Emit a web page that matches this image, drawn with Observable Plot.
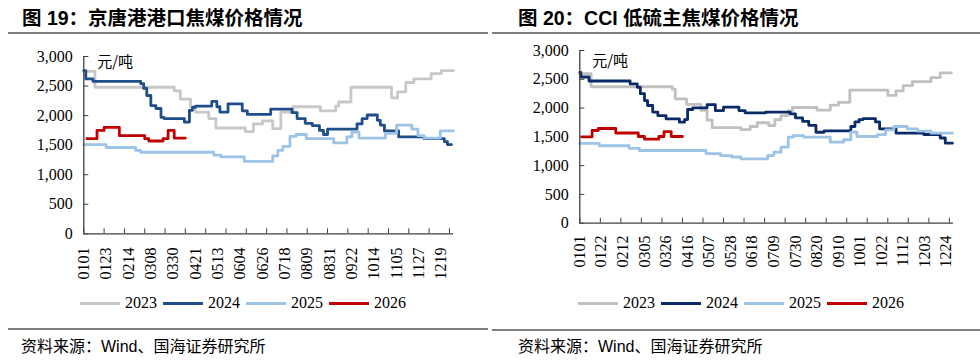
<!DOCTYPE html>
<html><head><meta charset="utf-8">
<script src="https://cdn.jsdelivr.net/npm/d3@7"></script>
<script src="https://cdn.jsdelivr.net/npm/@observablehq/plot@0.6"></script>
<style>
body{margin:0;background:#fff;width:980px;height:360px;position:relative;overflow:hidden;font-family:"Liberation Serif",serif;color:#000;}
.panel{position:absolute;top:0;width:490px;height:360px;}
.title{position:absolute;top:7px;font-weight:bold;font-size:19.5px;line-height:22px;font-family:"Liberation Sans","Noto Sans CJK SC",sans-serif;white-space:nowrap;color:#000;}
.rule{position:absolute;height:2px;background:#808080;}
.chart{position:absolute;top:36px;left:0;}
.legend{position:absolute;top:293px;height:20px;display:flex;align-items:center;font-size:16px;font-family:"Liberation Serif",serif;white-space:nowrap;}
.legend .sw{display:inline-block;width:40px;height:3px;margin-right:5px;}
.legend .lb{margin-right:6px;}
.source{position:absolute;top:337px;font-size:16px;line-height:20px;font-family:"Liberation Sans","Noto Sans CJK SC",sans-serif;white-space:nowrap;}
</style></head>
<body>
<div class="panel" id="p1" style="left:0">
  <div class="title" style="left:22px">图 19：京唐港港口焦煤价格情况</div>
  <div class="rule" style="left:8px;width:480px;top:32px"></div>
  <div class="chart" id="c1"></div>
  <div class="legend" id="l1" style="left:80px"></div>
  <div class="rule" style="left:8px;width:480px;top:328px"></div>
  <div class="source" style="left:21px">资料来源：Wind、国海证券研究所</div>
</div>
<div class="panel" id="p2" style="left:490px">
  <div class="title" style="left:28px">图 20：CCI 低硫主焦煤价格情况</div>
  <div class="rule" style="left:2px;width:488px;top:32px"></div>
  <div class="chart" id="c2"></div>
  <div class="legend" id="l2" style="left:88px"></div>
  <div class="rule" style="left:2px;width:488px;top:329px"></div>
  <div class="source" style="left:28px">资料来源：Wind、国海证券研究所</div>
</div>
<script>
// ---- shared ----
const years = ["2023", "2024", "2025", "2026"];
const yTicks = [0, 500, 1000, 1500, 2000, 2500, 3000];
const tickDays = [0, 20, 40, 60, 80, 100, 120, 140, 160, 180, 200, 220, 240, 260, 280, 300, 320, 340, 360];
const unitLabel = "元/吨";

// ---- left chart: 京唐港港口焦煤价格 (x = day of year, y = 元/吨) ----
const leftLabels = ["0101","0123","0214","0308","0330","0421","0513","0604","0626","0718","0809","0831","0922","1014","1105","1127","1219"];
const left2023Day = [0,11,89,95,105,110,123,130,159,167,176,186,194,206,233,248,251,263,303,309,317,325,342,352,364];
const left2023Val = [2750,2480,2420,2280,2150,2060,1950,1790,1730,1860,1910,1780,2060,2150,2080,2160,2230,2480,2300,2400,2560,2620,2710,2760,2760];
const left2024Day = [0,2,9,56,59,62,66,71,76,79,99,104,107,110,126,131,134,142,156,161,184,205,210,218,225,232,236,240,269,274,279,289,292,296,310,335,355,358,362];
const left2024Val = [2760,2620,2580,2540,2460,2340,2170,2120,1970,1950,1890,2090,2140,2160,2240,2150,2060,2200,2080,2020,2110,2050,1950,1870,1830,1750,1680,1770,1860,1950,2010,1920,1840,1740,1640,1610,1560,1510,1510];
const left2025Day = [0,22,51,56,128,135,158,186,191,196,203,209,219,246,259,264,271,297,308,323,329,335,351,364];
const left2025Val = [1510,1460,1410,1380,1330,1300,1225,1320,1410,1480,1650,1680,1610,1540,1640,1720,1620,1700,1840,1770,1660,1620,1740,1740];
const left2026Day = [3,13,20,35,60,64,78,83,89,100];
const left2026Val = [1610,1750,1800,1660,1610,1570,1610,1750,1620,1620];

// ---- right chart: CCI 低硫主焦煤价格 ----
const rightLabels = ["0101","0122","0212","0305","0326","0416","0507","0528","0618","0709","0730","0820","0910","1001","1022","1112","1203","1224"];
const right2023Day = [0,11,90,93,104,118,124,129,157,166,173,184,190,196,203,207,231,244,252,263,300,308,315,324,342,351,362];
const right2023Val = [2600,2370,2330,2160,2065,1960,1790,1660,1625,1680,1745,1697,1800,1870,1950,2010,1965,2050,2100,2310,2220,2300,2390,2460,2530,2610,2610];
const right2024Day = [0,1,9,49,56,59,63,66,71,76,84,97,102,105,110,124,132,140,155,161,181,205,210,217,223,230,238,264,268,272,276,288,292,308,335,351,356,363];
const right2024Val = [2620,2540,2470,2420,2360,2250,2130,2045,1930,1870,1813,1755,1800,1975,2004,2060,1957,2015,1957,1918,1930,1900,1830,1770,1700,1580,1605,1680,1760,1800,1815,1760,1640,1565,1541,1480,1390,1390];
const right2025Day = [0,19,48,58,123,137,148,157,183,189,196,203,208,218,244,257,264,270,290,298,306,319,329,342,363];
const right2025Val = [1385,1345,1300,1263,1210,1175,1150,1118,1176,1233,1320,1494,1520,1494,1407,1450,1581,1506,1540,1622,1680,1640,1598,1564,1564];
const right2026Day = [2,12,18,35,57,63,77,82,89,100];
const right2026Val = [1500,1610,1645,1567,1506,1460,1506,1590,1506,1506];

const leftColors = ["#c8c8c8", "#1f4e8a", "#9dc3e6", "#c00000"];
const rightColors = ["#c0c0c0", "#0b2a68", "#9dc3e6", "#c00000"];

const dayOf = s => d3.timeDay.count(new Date(2023, 0, 1), new Date(2023, +s.slice(0, 2) - 1, +s.slice(2)));

function series(dayArrs, valArrs) {
  return dayArrs.map((days, k) => days.map((d, i) => ({year: years[k], day: d, value: valArrs[k][i]})));
}

function panel({labels, data, colors, marginLeft, marginRight, marginTop, marginBottom, labelPad, unitDx, unitDy}) {
  const labelDays = labels.map(dayOf);
  const labelMap = new Map(labelDays.map((d, i) => [d, labels[i]]));
  const axisColor = "#404040";
  return Plot.plot({
    width: 490, height: 256,
    marginLeft, marginRight, marginTop, marginBottom,
    x: {domain: [0, 364]},
    y: {domain: [0, 3000]},
    style: {fontFamily: "Liberation Serif, serif", fontSize: "16px", color: "#000", background: "transparent", overflow: "visible"},
    marks: [
      Plot.axisY(yTicks, {tickSize: 0, tickPadding: 11, tickFormat: d3.format(","), label: null, fontSize: 16, fill: "#000"}),
      Plot.axisY(yTicks, {tickSize: -5, fill: "none", label: null, stroke: axisColor}),
      Plot.axisX(labelDays, {tickSize: 0, tickPadding: labelPad, tickRotate: -90, tickFormat: d => labelMap.get(d), label: null, fontSize: 16, fill: "#000"}),
      Plot.axisX(tickDays, {tickSize: -5, fill: "none", label: null, stroke: axisColor}),
      ...data.map((s, k) => Plot.line(s, {x: "day", y: "value", curve: "step-after", stroke: colors[k], strokeWidth: 2.8})),
      Plot.ruleY([0], {stroke: axisColor, strokeWidth: 1.3}),
      Plot.ruleX([0], {stroke: axisColor, strokeWidth: 1.3}),
      Plot.text([unitLabel], {text: d => d, frameAnchor: "top-left", dx: unitDx, dy: unitDy, textAnchor: "start", lineAnchor: "middle", fontFamily: "Noto Sans CJK SC, sans-serif", fontSize: 15, fill: "#000"})
    ]
  });
}

function legend(el, colors) {
  years.forEach((y, k) => {
    const sw = document.createElement("span");
    sw.className = "sw"; sw.style.background = colors[k];
    const lb = document.createElement("span");
    lb.className = "lb"; lb.textContent = y;
    el.appendChild(sw); el.appendChild(lb);
  });
}

document.getElementById("c1").appendChild(panel({
  labels: leftLabels,
  data: series([left2023Day, left2024Day, left2025Day, left2026Day], [left2023Val, left2024Val, left2025Val, left2026Val]),
  colors: leftColors,
  marginLeft: 83.3, marginRight: 37, marginTop: 20, marginBottom: 58.7, labelPad: 13.7, unitDx: 13.4, unitDy: 5.7
}));
document.getElementById("c2").appendChild(panel({
  labels: rightLabels,
  data: series([right2023Day, right2024Day, right2025Day, right2026Day], [right2023Val, right2024Val, right2025Val, right2026Val]),
  colors: rightColors,
  marginLeft: 89.3, marginRight: 27, marginTop: 14, marginBottom: 69.3, labelPad: 12.3, unitDx: 12.4, unitDy: 10.8
}));
legend(document.getElementById("l1"), leftColors);
legend(document.getElementById("l2"), rightColors);
</script>
</body></html>
